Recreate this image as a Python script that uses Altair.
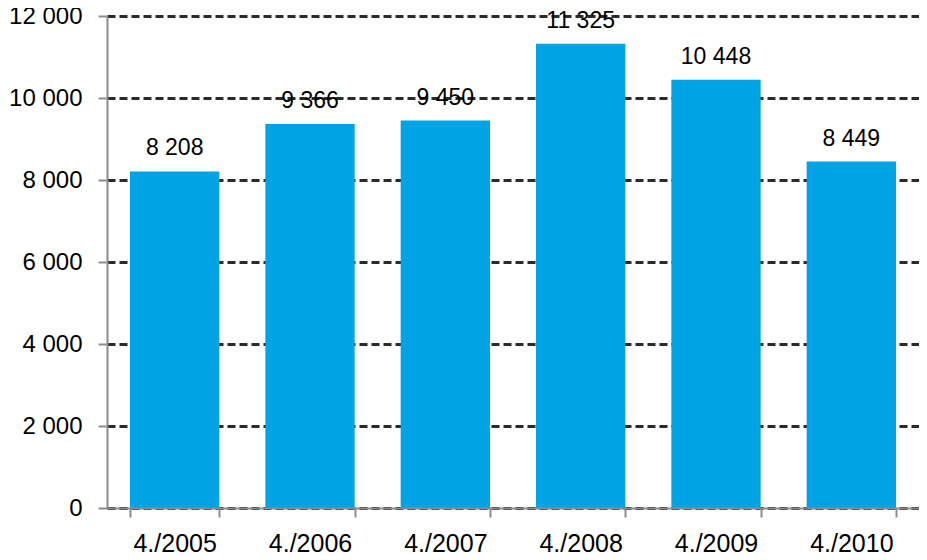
import altair as alt
import pandas as pd

periods = ["4./2005", "4./2006", "4./2007", "4./2008", "4./2009", "4./2010"]
values = [8208, 9366, 9450, 11325, 10448, 8449]
y_ticks = [0, 2000, 4000, 6000, 8000, 10000, 12000]

df = pd.DataFrame({"period": periods, "value": values})

FONT = "Liberation Sans"
AXIS_GRAY = "#8c8c8c"
BAR_BLUE = "#00A4E4"

x_enc = alt.X(
    "period:N",
    sort=periods,
    title=None,
    scale=alt.Scale(paddingInner=0.34, paddingOuter=0.17),
    axis=alt.Axis(
        labelAngle=0,
        tickBand="extent",
        grid=False,
        domainColor=AXIS_GRAY,
        domainWidth=2,
        tickColor=AXIS_GRAY,
        tickWidth=2,
        tickSize=9,
        labelPadding=14,
        labelFont=FONT,
        labelFontSize=25,
        labelColor="#000000",
        zindex=1,
    ),
)

y_enc = alt.Y(
    "value:Q",
    title=None,
    scale=alt.Scale(domain=[0, 12000], nice=False),
    axis=alt.Axis(
        values=y_ticks,
        labelExpr="replace(format(datum.value, ','), ',', ' ')",
        grid=True,
        gridDash=[8, 4],
        gridColor="#2b2b2b",
        gridWidth=3,
        domainColor=AXIS_GRAY,
        domainWidth=2,
        tickColor=AXIS_GRAY,
        tickWidth=2,
        tickSize=9,
        labelPadding=16,
        labelFont=FONT,
        labelFontSize=24,
        labelColor="#000000",
    ),
)

bars = alt.Chart(df).mark_bar(color=BAR_BLUE).encode(x=x_enc, y=y_enc)

text = alt.Chart(df).mark_text(
    font=FONT, fontSize=23, color="#000000", baseline="alphabetic", dy=-16
).transform_calculate(
    lbl="replace(format(datum.value, ','), ',', ' ')"
).encode(
    x=alt.X("period:N", sort=periods),
    y=alt.Y("value:Q"),
    text="lbl:N",
)

chart = (
    alt.layer(bars, text)
    .properties(
        width=812,
        height=492,
        autosize=alt.AutoSizeParams(type="none"),
        padding={"left": 99, "top": 8, "right": 0, "bottom": 44},
    )
    .configure_view(stroke=None)
)

chart.save("out.html", embed_options={"renderer": "svg", "actions": False})
